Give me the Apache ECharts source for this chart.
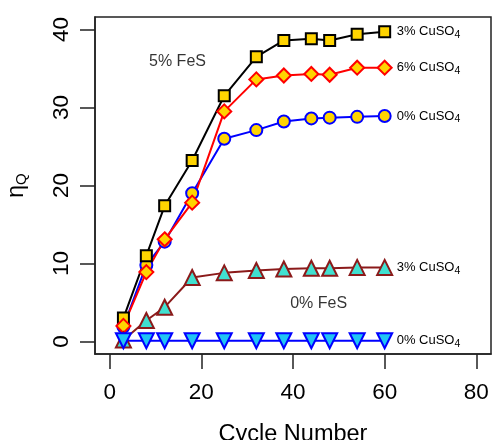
<!DOCTYPE html>
<html>
<head>
<meta charset="utf-8">
<script src="https://cdn.jsdelivr.net/npm/echarts@6/dist/echarts.min.js"></script>
<style>html,body{margin:0;padding:0;background:#fff}#c{width:494px;height:440px}</style>
</head>
<body>
<div id="c"></div>
<script>
// ---- data ----
const cycles = [3, 8, 12, 18, 25, 32, 38, 44, 48, 54, 60];
const fes5_cu3 = [3.0, 11.0, 17.4, 23.2, 31.5, 36.5, 38.6, 38.8, 38.6, 39.4, 39.7];
const fes5_cu6 = [2.0, 8.9, 13.1, 17.8, 29.5, 33.6, 34.1, 34.3, 34.2, 35.1, 35.1];
const fes5_cu0 = [1.9, 9.8, 12.8, 19.0, 26.0, 27.1, 28.2, 28.6, 28.7, 28.8, 28.9];
const fes0_cu3 = [0.2, 2.7, 4.4, 8.2, 8.8, 9.1, 9.3, 9.4, 9.4, 9.5, 9.5];
const fes0_cu0 = [0.1, 0.1, 0.1, 0.1, 0.1, 0.1, 0.1, 0.1, 0.1, 0.1, 0.1];
const seriesLabels = ['0% CuSO', '3% CuSO', '6% CuSO', '3% CuSO', '0% CuSO'];
const labelSub = '4';
const xTicks = [0, 20, 40, 60, 80];
const yTicks = [0, 10, 20, 30, 40];
const xTitle = 'Cycle Number';
const yTitleMain = 'η';
const yTitleSub = 'Q';
const annotations = [
  { text: '5% FeS', x: 14.8, y: 35.9 },
  { text: '0% FeS', x: 45.6, y: 4.9 }
];
// ---- chart ----
const FONT = 'Liberation Sans, Arial, sans-serif';
function ext(t) { const r = t[t.length - 1] - t[0]; return [t[0] - 0.04 * r, t[t.length - 1] + 0.04 * r]; }
const [xMin, xMax] = ext(xTicks);
const [yMin, yMax] = ext(yTicks);
const pairs = ys => cycles.map((c, i) => [c, ys[i]]);

function mkSeries(name, ys, lineColor, symbol, fill, border, size, rotate, labelText) {
  return {
    name, type: 'line', data: pairs(ys),
    symbol, symbolSize: size, symbolRotate: rotate || 0,
    showAllSymbol: true,
    lineStyle: { color: lineColor, width: 2 },
    itemStyle: { color: fill, borderColor: border, borderWidth: 2 },
    emphasis: { disabled: true },
    animation: false,
    endLabel: {
      show: true, distance: 12,
      formatter: '{a|' + labelText + '}{s|' + labelSub + '}',
      rich: {
        a: { fontFamily: FONT, fontSize: 13, color: '#000' },
        s: { fontFamily: FONT, fontSize: 10.5, color: '#000', padding: [7, 0, 0, 0] }
      }
    }
  };
}

const chart = echarts.init(document.getElementById('c'), null, { renderer: 'canvas' });
chart.setOption({
  animation: false,
  backgroundColor: '#fff',
  grid: { left: 95, top: 17, right: 3, bottom: 86, show: true, borderColor: '#222', borderWidth: 1.5, backgroundColor: 'transparent', containLabel: false, outerBoundsMode: 'none' },
  xAxis: {
    type: 'value', min: xMin, max: xMax,
    axisLine: { show: true, onZero: false, lineStyle: { color: '#222', width: 1.5 } },
    axisTick: { show: true, inside: false, length: 15, customValues: xTicks, lineStyle: { color: '#222', width: 1.5 } },
    axisLabel: { customValues: xTicks, fontFamily: FONT, fontSize: 22.5, color: '#000', margin: 27 },
    splitLine: { show: false },
    name: xTitle, nameLocation: 'middle', nameGap: 69,
    nameTextStyle: { fontFamily: FONT, fontSize: 23.5, color: '#000' }
  },
  yAxis: {
    type: 'value', min: yMin, max: yMax,
    axisLine: { show: true, onZero: false, lineStyle: { color: '#222', width: 1.5 } },
    axisTick: { show: true, inside: false, length: 15, customValues: yTicks, lineStyle: { color: '#222', width: 1.5 } },
    axisLabel: { customValues: yTicks, rotate: 90, fontFamily: FONT, fontSize: 22.5, color: '#000', margin: 22 },
    splitLine: { show: false },
    name: '{m|' + yTitleMain + '}{s|' + yTitleSub + '}', nameLocation: 'middle', nameGap: 66, nameRotate: 90,
    nameTextStyle: {
      rich: {
        m: { fontFamily: FONT, fontSize: 23, color: '#000' },
        s: { fontFamily: FONT, fontSize: 15, color: '#000', padding: [9, 0, 0, 0] }
      }
    }
  },
  series: [
    mkSeries('5% FeS, 0% CuSO4', fes5_cu0, '#0000FF', 'circle', '#FFD400', '#0000FF', 12, 0, seriesLabels[0]),
    mkSeries('5% FeS, 3% CuSO4', fes5_cu3, '#000000', 'rect', '#FFD400', '#000000', 11, 0, seriesLabels[1]),
    mkSeries('5% FeS, 6% CuSO4', fes5_cu6, '#FF0000', 'diamond', '#FFD400', '#FF0000', 14, 0, seriesLabels[2]),
    mkSeries('0% FeS, 3% CuSO4', fes0_cu3, '#8B1A1A', 'triangle', '#40E0D0', '#8B1A1A', 15, 0, seriesLabels[3]),
    mkSeries('0% FeS, 0% CuSO4', fes0_cu0, '#0000FF', 'triangle', '#20C4F4', '#0000FF', 15, 180, seriesLabels[4]),
    {
      type: 'scatter', symbolSize: 0, silent: true,
      data: annotations.map(a => ({ value: [a.x, a.y], name: a.text })),
      label: { show: true, position: 'inside', formatter: p => p.name, fontFamily: FONT, fontSize: 16, color: '#000', textBorderWidth: 0 },
      z: 10
    }
  ]
});
</script>
</body>
</html>
